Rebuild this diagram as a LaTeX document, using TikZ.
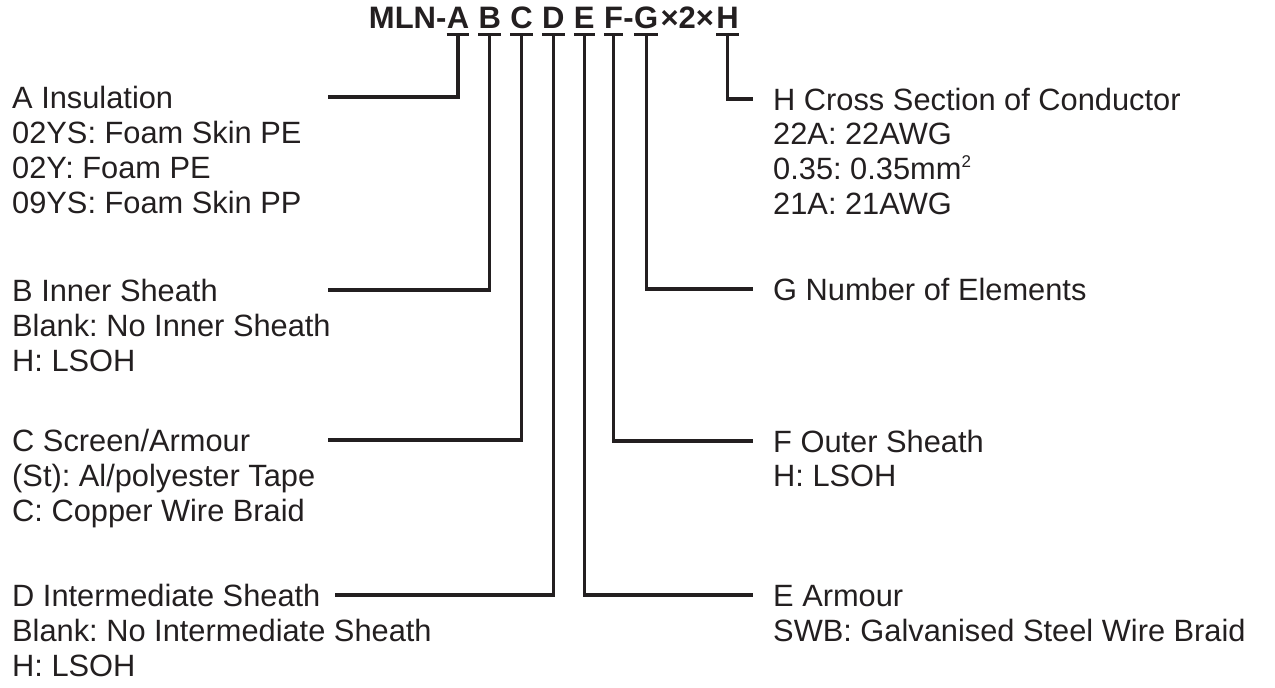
\documentclass[tikz,border=0pt]{standalone}
\usepackage{fontspec}
\setmainfont{Liberation Sans}
\usetikzlibrary{positioning}
\frenchspacing
\definecolor{ink}{HTML}{231F20}

\begin{document}
\begin{tikzpicture}[x=1pt,y=-1pt,every node/.style={text=ink}]
  	\tikzstyle{letter}=[font=\fontsize{31}{36}\selectfont\bfseries, inner sep=0, text depth=6pt]
  	\tikzstyle{head}=[font=\fontsize{30.8}{35}\selectfont, inner sep=0, text height=22pt, text depth=0pt]
  	\tikzstyle{opts}=[font=\fontsize{30.8}{35}\selectfont, inner sep=0, align=left]
  	\tikzstyle{connect}=[draw=ink, line width=3.3pt]
  	\useasboundingbox (0,0) rectangle (1275,688);
  	% type code
  	\node[letter, anchor=base] (tA) at (458,28) {A};
  	\node[letter] (mln) [base left=0pt of tA] {MLN-};
  	\node[letter] (tB) [base right=9pt of tA] {B};
  	\node[letter] (tC) [base right=9pt of tB] {C};
  	\node[letter] (tD) [base right=9pt of tC] {D};
  	\node[letter] (tE) [base right=9pt of tD] {E};
  	\node[letter] (tF) [base right=9pt of tE] {F};
  	\node[letter] (dash) [base right=0pt of tF] {-};
  	\node[letter] (tG) [base right=0pt of dash] {G};
  	\node[letter] (times) [base right=2pt of tG] {×2×};
  	\node[letter] (tH) [base right=2pt of times] {H};
  	\foreach \l in {tA,tB,tC,tD,tE,tF,tG,tH}
  	  \draw[connect] (\l.south west) -- (\l.south east);
  	
  	% left side
  	\node[head, anchor=west] (ins) at (12,97) {A Insulation};
  	\node[opts, below right=13pt and 0pt of ins.base west] (insopt) {02YS: Foam Skin PE\\02Y: Foam PE\\09YS: Foam Skin PP};
  	\node[head, anchor=west] (inner) at (12,290) {B Inner Sheath};
  	\node[opts, below right=13pt and 0pt of inner.base west] (inneropt) {Blank: No Inner Sheath\\H: LSOH};
  	\node[head, anchor=west] (scr) at (12,440) {C Screen/Armour};
  	\node[opts, below right=13pt and 0pt of scr.base west] (scropt) {(St): Al/polyester Tape\\C: Copper Wire Braid};
  	\node[head, anchor=west] (inter) at (12,595) {D Intermediate Sheath};
  	\node[opts, below right=13pt and 0pt of inter.base west] (interopt) {Blank: No Intermediate Sheath\\H: LSOH};
  	
  	% right side
  	\node[head, anchor=west] (cross) at (773,99) {H Cross Section of Conductor};
  	\node[opts, below right=13pt and 0pt of cross.base west] (crossopt) {22A: 22AWG\\0.35: 0.35mm\raisebox{12pt}{\fontsize{17}{17}\selectfont 2}\\21A: 21AWG};
  	\node[head, anchor=west] (elem) at (773,289) {G Number of Elements};
  	\node[head, anchor=west] (outer) at (773,441) {F Outer Sheath};
  	\node[opts, below right=13pt and 0pt of outer.base west] (outeropt) {H: LSOH};
  	\node[head, anchor=west] (arm) at (773,595) {E Armour};
  	\node[opts, below right=13pt and 0pt of arm.base west] (armopt) {SWB: Galvanised Steel Wire Braid};
  	
  	\coordinate (lx) at (328,0);
  	\draw[connect] (tA.south) |- (lx |- ins.east);
  	\draw[connect] (tB.south) |- (lx |- inner.east);
  	\draw[connect] (tC.south) |- (lx |- scr.east);
  	\draw[connect] (tD.south) |- ([xshift=14pt]inter.east);
  	\draw[connect] (tE.south) |- ([xshift=-20pt]arm.west);
  	\draw[connect] (tF.south) |- ([xshift=-20pt]outer.west);
  	\draw[connect] (tG.south) |- ([xshift=-20pt]elem.west);
  	\draw[connect] (tH.south) |- ([xshift=-20pt]cross.west);
\end{tikzpicture}
\end{document}
